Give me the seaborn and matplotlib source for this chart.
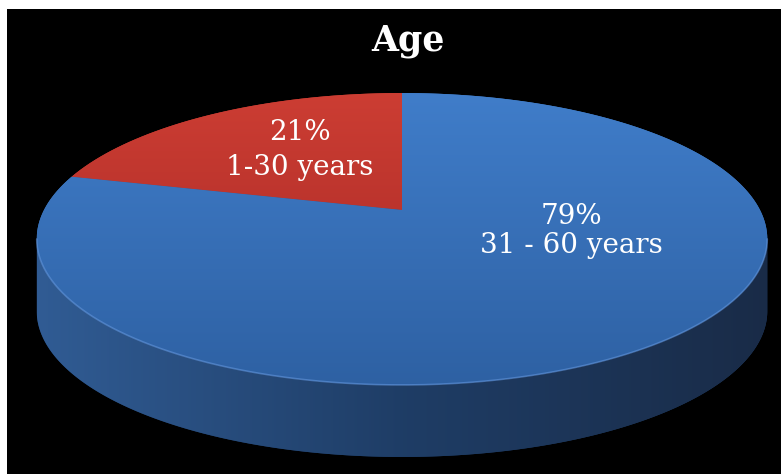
import numpy as np
import matplotlib
matplotlib.use("Agg")
import matplotlib.pyplot as plt
import seaborn as sns
from matplotlib.path import Path
from matplotlib import transforms as mtrans
from matplotlib.colors import LinearSegmentedColormap
from matplotlib.patches import Polygon

# ---------------- data ----------------
title = "Age"
categories = ["1-30 years", "31 - 60 years"]
shares = [21, 79]
pct_labels = ["21%", "79%"]

# ---------------- style ----------------
sns.set_theme(style="white")
plt.rcParams["font.family"] = ["DejaVu Serif", "DejaVu Sans"]

top_grad = [[(0.80, 0.24, 0.20), (0.64, 0.15, 0.14)],      # red: top -> bottom
            [(0.25, 0.49, 0.79), (0.18, 0.38, 0.64)]]      # blue: top -> bottom
side_cols = [(0.19, 0.36, 0.58), (0.12, 0.24, 0.40), (0.10, 0.17, 0.28)]

W, H = 781, 474
fig = plt.figure(figsize=(W / 100, H / 100), dpi=100, facecolor="white")
ax = fig.add_axes([7 / W, 0, (W - 7) / W, (H - 9) / H])


class Perspective(mtrans.Transform):
    """Tilted-disc projection of the unit pie into pixel-like data coords."""
    input_dims = output_dims = 2
    is_separable = False
    has_inverse = False

    def __init__(self, cx, cy, a, b, c):
        super().__init__()
        self.cx, self.cy, self.a, self.b, self.c = cx, cy, a, b, c

    def transform_non_affine(self, values):
        v = np.asarray(values, float).reshape(-1, 2)
        d = 1 + self.c * v[:, 1]
        return np.column_stack([self.cx + self.a * v[:, 0] / d,
                                self.cy - self.b * v[:, 1] / d])

    def transform_path_non_affine(self, path):
        pts = []
        for seg, code in path.iter_bezier():
            if code == Path.MOVETO:
                pts.append(np.asarray(seg.control_points).reshape(-1, 2))
            else:
                t = np.linspace(0, 1, 24)[1:]
                pts.append(np.asarray(seg(t)).reshape(-1, 2))
        v = np.vstack(pts)
        return Path(self.transform_non_affine(v), closed=True)


persp = Perspective(cx=402, cy=210, a=358, b=140.2, c=0.1986)
depth = 72

wedges, _ = ax.pie(shares, startangle=90, counterclock=True, radius=1,
                   colors=[g[0] for g in top_grad], frame=True,
                   wedgeprops=dict(linewidth=0))

ax.set_aspect("auto")
ax.set_facecolor("black")
ax.set_xlim(7, W)
ax.set_ylim(H, 9)
ax.set_xticks([])
ax.set_yticks([])
for s in ax.spines.values():
    s.set_visible(False)

# ---- side of the cylinder (front arc + shifted copy) ----
c = persp.c
th = np.linspace(np.pi + np.arcsin(c), 2 * np.pi - np.arcsin(c), 300)
front = persp.transform(np.column_stack([np.cos(th), np.sin(th)]))
side_poly = np.vstack([front, (front + [0, depth])[::-1]])
side = Polygon(side_poly, closed=True, facecolor=side_cols[1], edgecolor="none",
               transform=ax.transData, zorder=1)
ax.add_patch(side)
side_cmap = LinearSegmentedColormap.from_list("side", side_cols)
x0, x1 = side_poly[:, 0].min(), side_poly[:, 0].max()
y0, y1 = side_poly[:, 1].min(), side_poly[:, 1].max()
im = ax.imshow(np.linspace(0, 1, 256)[None, :], cmap=side_cmap, aspect="auto",
               extent=(x0, x1, y1, y0), origin="upper", zorder=1.5,
               interpolation="bilinear")
im.set_clip_path(side)

# ---- top surface wedges with vertical gradient ----
tpts = persp.transform(np.column_stack([np.cos(np.linspace(0, 2 * np.pi, 400)),
                                        np.sin(np.linspace(0, 2 * np.pi, 400))]))
tx0, tx1 = tpts[:, 0].min(), tpts[:, 0].max()
ty0, ty1 = tpts[:, 1].min(), tpts[:, 1].max()
for w, g in zip(wedges, top_grad):
    w.set_transform(persp + ax.transData)
    w.set_zorder(2)
    cm = LinearSegmentedColormap.from_list("g", list(g))
    gi = ax.imshow(np.linspace(0, 1, 256)[:, None], cmap=cm, aspect="auto",
                   extent=(tx0, tx1, ty1, ty0), origin="upper", zorder=2.5,
                   interpolation="bilinear")
    gi.set_clip_path(w)

# subtle highlight along the front rim
ax.plot(front[:, 0], front[:, 1], color=(0.40, 0.60, 0.88), lw=1.2, alpha=0.55,
        zorder=3, solid_capstyle="round")

ax.set_xlim(7, W)
ax.set_ylim(H, 9)

# ---- labels ----
label_pos = [(300, 150), (571, 231)]
label_spacing = [1.35, 1.1]
for i in range(len(shares)):
    ax.text(label_pos[i][0], label_pos[i][1], f"{pct_labels[i]}\n{categories[i]}",
            ha="center", va="center", color="white", fontsize=20,
            linespacing=label_spacing[i], zorder=4)

ax.text(408, 50, title, ha="center", va="baseline", color="white",
        fontsize=25, fontweight="bold", zorder=4)

fig.savefig("out.png", dpi=100, facecolor=fig.get_facecolor())
